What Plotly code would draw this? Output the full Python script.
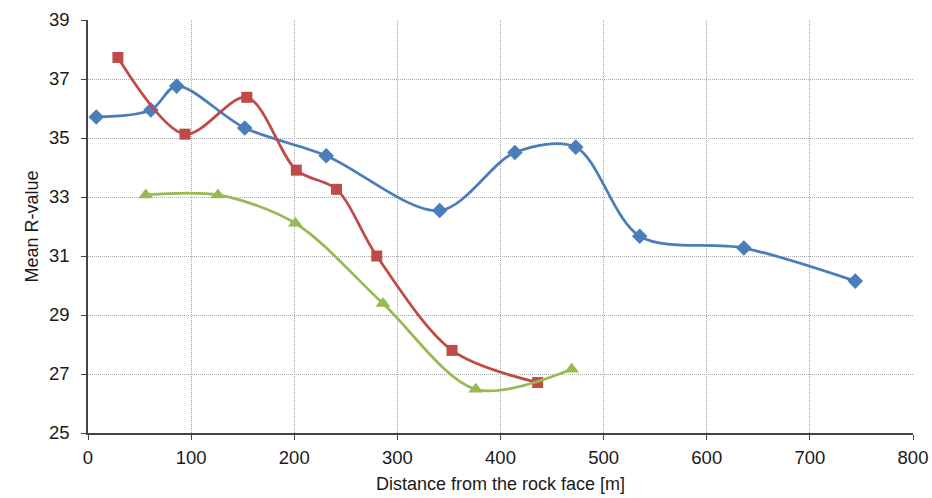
import plotly.graph_objects as go

# Distance from the rock face [m] and mean rebound (R) values per profile
blue_x = [8, 61, 86, 152, 231, 341, 414, 473, 535, 636, 744]
blue_y = [35.71, 35.95, 36.76, 35.34, 34.40, 32.54, 34.51, 34.69, 31.67, 31.27, 30.15]

red_x = [29, 94, 154, 202, 241, 280, 353, 436]
red_y = [37.73, 35.13, 36.38, 33.91, 33.26, 31.00, 27.80, 26.71]

green_x = [56, 126, 201, 286, 376, 469]
green_y = [33.07, 33.07, 32.11, 29.39, 26.48, 27.16]

x_ticks = [0, 100, 200, 300, 400, 500, 600, 700, 800]
y_ticks = [25, 27, 29, 31, 33, 35, 37, 39]

BLUE = "#4A7EBB"
RED = "#BE4B48"
GREEN = "#98B954"

FAMILY = "Liberation Sans, Arial, sans-serif"
TEXT = "#1a1a1a"

fig = go.Figure()

def add_series(xs, ys, color, symbol, size):
    fig.add_trace(go.Scatter(
        x=xs, y=ys, mode="lines+markers",
        line=dict(color=color, width=2.75, shape="spline", smoothing=0.9),
        marker=dict(symbol=symbol, size=size, color=color),
        showlegend=False, cliponaxis=False,
    ))

add_series(blue_x, blue_y, BLUE, "diamond", 12)
add_series(red_x, red_y, RED, "square", 11)
add_series(green_x, green_y, GREEN, "triangle-up", 13)

tick_font = dict(family=FAMILY, size=18.5, color=TEXT)
title_font = dict(family=FAMILY, size=18, color=TEXT)

fig.update_layout(
    width=932, height=498,
    margin=dict(l=88, r=19, t=20, b=65),
    paper_bgcolor="white", plot_bgcolor="white",
    font=tick_font,
)
common = dict(
    showgrid=True, gridcolor="#a8a8a8", griddash="1px,1px", gridwidth=1,
    showline=True, linecolor="#444444", linewidth=1.5,
    ticks="outside", ticklen=5, tickcolor="#444444",
    zeroline=False, tickfont=tick_font,
    automargin=False, ticklabeloverflow="allow",
)
fig.update_xaxes(
    range=[0, 800], tickvals=x_ticks, ticktext=[str(v) for v in x_ticks],
    ticklabelstandoff=2,
    title=dict(text="Distance from the rock face [m]", font=title_font, standoff=10),
    **common,
)
fig.update_yaxes(
    range=[25, 39], tickvals=y_ticks, ticktext=[str(v) for v in y_ticks],
    ticklabelstandoff=8,
    title=dict(text="Mean R-value", font=title_font, standoff=6),
    **common,
)

fig.write_html("out.html")
